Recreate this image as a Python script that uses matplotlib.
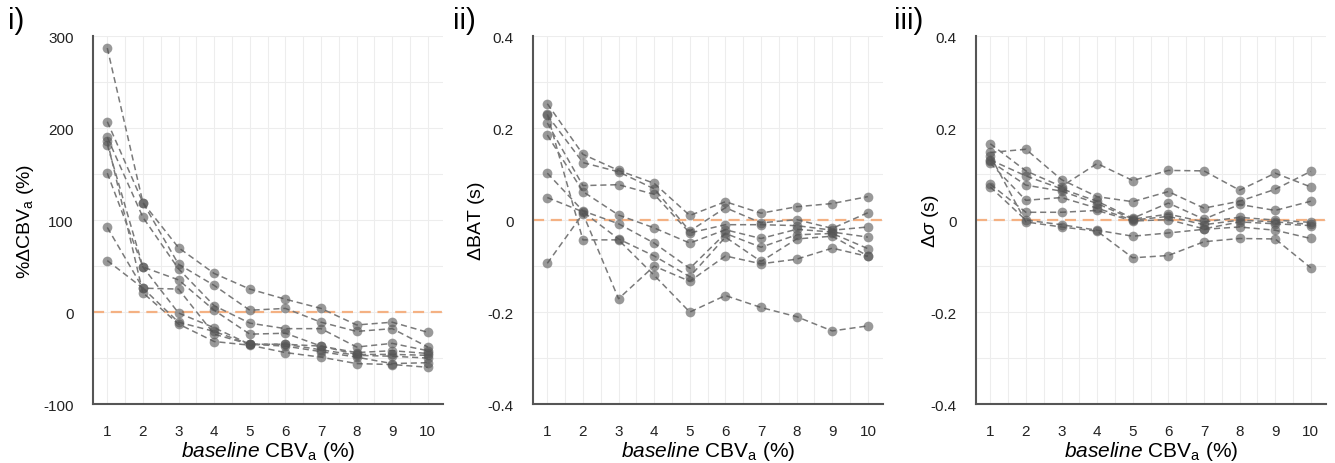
import matplotlib
matplotlib.use("Agg")
import matplotlib.pyplot as plt
import numpy as np
from matplotlib.ticker import MultipleLocator

plt.rcParams['font.family'] = ['Liberation Sans', 'DejaVu Sans']
plt.rcParams['mathtext.fontset'] = 'custom'
plt.rcParams['mathtext.rm'] = 'Liberation Sans'
plt.rcParams['mathtext.it'] = 'Liberation Sans:italic'

baseline_cbv = [1, 2, 3, 4, 5, 6, 7, 8, 9, 10]

# Panel i: %ΔCBVa (%)
dcbv_series = [
    [287, 119, 70, 42, 25, 14, 4, -14, -11, -22],
    [207, 119, 52, 29, 2, 4, -11, -21, -18, -38],
    [190, 103, 47, 7, -12, -18, -18, -38, -34, -42],
    [182, 49, 35, 2, -24, -23, -37, -44, -42, -45],
    [151, 49, -1, -17, -35, -35, -37, -46, -46, -47],
    [92, 26, -11, -21, -35, -35, -41, -47, -48, -50],
    [56, 26, 25, -24, -35, -37, -43, -49, -56, -55],
    [186, 21, -13, -32, -36, -44, -49, -56, -57, -60],
]

# Panel ii: ΔBAT (s)
dbat_series = [
    [0.253, 0.143, 0.108, 0.080, 0.010, 0.040, 0.015, 0.029, 0.036, 0.051],
    [0.228, 0.125, 0.105, 0.068, -0.024, 0.027, -0.006, 0.001, -0.018, 0.016],
    [0.211, 0.075, 0.077, 0.056, -0.028, -0.010, -0.010, -0.012, -0.022, -0.015],
    [0.185, 0.062, 0.011, -0.017, -0.050, -0.021, -0.040, -0.020, -0.026, -0.037],
    [0.102, 0.020, -0.008, -0.050, -0.105, -0.029, -0.059, -0.032, -0.029, -0.062],
    [0.049, 0.018, -0.041, -0.078, -0.123, -0.037, -0.090, -0.041, -0.035, -0.078],
    [-0.094, 0.014, -0.171, -0.100, -0.133, -0.078, -0.095, -0.085, -0.061, -0.079],
    [0.230, -0.043, -0.043, -0.120, -0.200, -0.164, -0.190, -0.210, -0.241, -0.230],
]

# Panel iii: Δσ (s)
dsigma_series = [
    [0.166, 0.107, 0.073, 0.123, 0.086, 0.108, 0.107, 0.065, 0.102, 0.072],
    [0.147, 0.154, 0.088, 0.051, 0.040, 0.062, 0.026, 0.041, 0.067, 0.106],
    [0.131, 0.096, 0.068, 0.041, 0.004, 0.037, 0.002, 0.034, 0.021, 0.041],
    [0.128, 0.076, 0.063, 0.036, 0.002, 0.013, -0.004, 0.006, 0.000, -0.005],
    [0.124, 0.043, 0.049, 0.026, 0.000, 0.008, -0.010, 0.000, -0.004, -0.009],
    [0.078, 0.017, 0.017, 0.021, -0.002, 0.001, -0.019, -0.004, -0.008, -0.012],
    [0.072, 0.000, -0.010, -0.022, -0.035, -0.028, -0.020, -0.015, -0.022, -0.040],
    [0.140, -0.004, -0.015, -0.024, -0.082, -0.077, -0.047, -0.040, -0.041, -0.104],
]

panel_labels = ["i)", "ii)", "iii)"]
ylabels = [r"%$\Delta$CBV$_\mathrm{a}$ (%)", r"$\Delta$BAT (s)", r"$\Delta\sigma$ (s)"]
xlabel = r"$\mathit{baseline}$ CBV$_\mathrm{a}$ (%)"
ylims = [(-100, 300), (-0.4, 0.4), (-0.4, 0.4)]
yticks = [[-100, 0, 100, 200, 300], [-0.4, -0.2, 0, 0.2, 0.4], [-0.4, -0.2, 0, 0.2, 0.4]]
yticklabels = [["-100", "0", "100", "200", "300"],
               ["-0.4", "-0.2", "0", "0.2", "0.4"],
               ["-0.4", "-0.2", "0", "0.2", "0.4"]]
yminor = [50, 0.1, 0.1]

fig = plt.figure(figsize=(13.35, 4.64), dpi=100)
lefts = [0.0697, 0.3993, 0.7311]
label_x = [0.006, 0.339, 0.670]
ylabel_x = [-0.192, -0.162, -0.131]
bottom, height, width = 0.127, 0.793, 0.262

all_series = [dcbv_series, dbat_series, dsigma_series]
for k in range(3):
    ax = fig.add_axes([lefts[k], bottom, width, height])
    ax.set_xlim(0.6, 10.42)
    ax.set_ylim(*ylims[k])
    ax.set_xticks(baseline_cbv)
    ax.xaxis.set_minor_locator(MultipleLocator(0.5))
    ax.set_yticks(yticks[k])
    ax.set_yticklabels(yticklabels[k])
    ax.yaxis.set_minor_locator(MultipleLocator(yminor[k]))
    ax.grid(True, which='both', color='#ededed', linewidth=0.8)
    ax.set_axisbelow(True)
    for s in ['top', 'right']:
        ax.spines[s].set_visible(False)
    for s in ['left', 'bottom']:
        ax.spines[s].set_color('#555555')
        ax.spines[s].set_linewidth(1.5)
    ax.tick_params(which='both', length=0)
    ax.tick_params(axis='y', pad=14, labelsize=11, labelcolor='#222222')
    ax.tick_params(axis='x', pad=14, labelsize=11, labelcolor='#222222')
    ax.axhline(0, color='#f4b183', linestyle=(0, (5, 3)), linewidth=1.6, zorder=1)
    for ser in all_series[k]:
        ax.plot(baseline_cbv, ser, linestyle=(0, (4, 2.5)), color='#7a7a7a',
                linewidth=1.1, zorder=2)
        ax.plot(baseline_cbv, ser, linestyle='none', marker='o', markersize=7,
                markerfacecolor='#555555', markeredgecolor='none', alpha=0.6, zorder=3)
    ylab = ax.set_ylabel(ylabels[k], fontsize=14)
    ylab.set_verticalalignment('center')
    ax.yaxis.set_label_coords(ylabel_x[k], 0.5)
    ax.set_xlabel(xlabel, fontsize=15, labelpad=1)
    fig.text(label_x[k], 0.955, panel_labels[k], fontsize=21, va='center', ha='left')

fig.savefig("out.png", dpi=100)
